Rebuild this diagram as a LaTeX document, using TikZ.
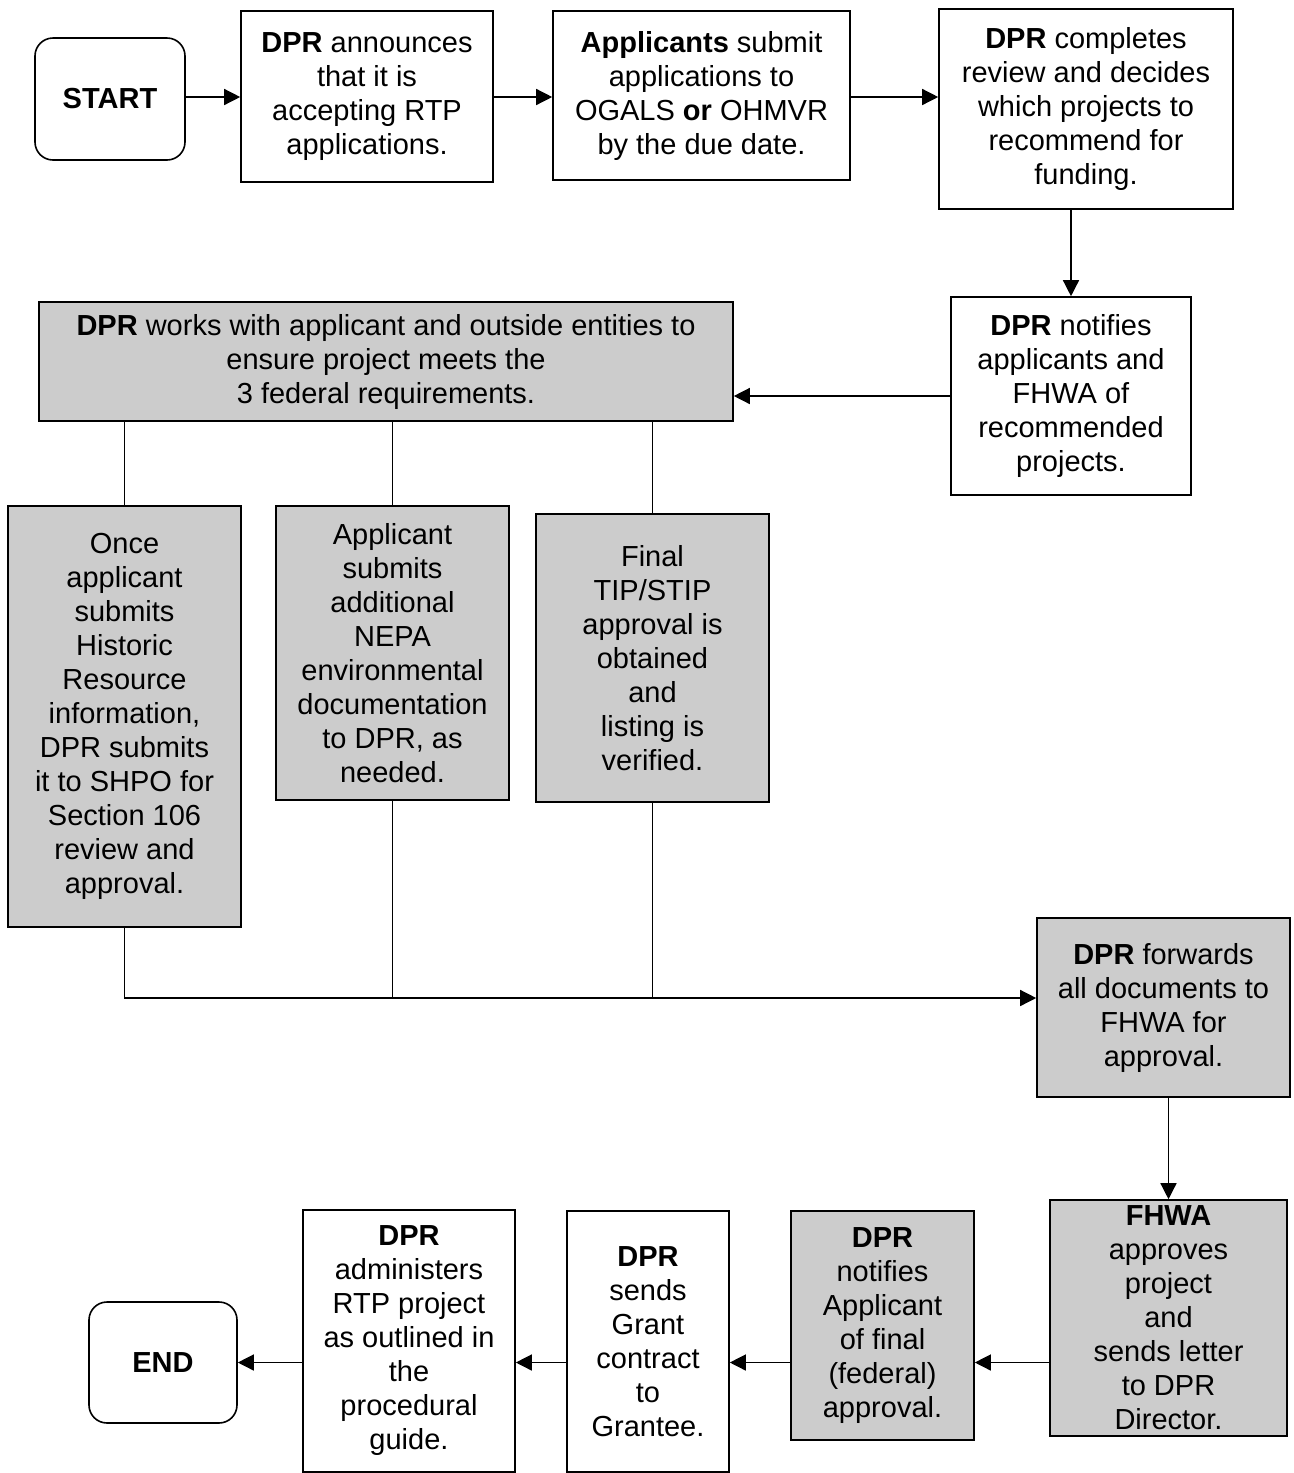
\documentclass[tikz,border=0pt]{standalone}
\usepackage{fontspec}
\setmainfont{Liberation Sans}
\usetikzlibrary{arrows.meta,positioning}
\definecolor{boxgray}{RGB}{204,204,204}
\tikzstyle{box}=[draw,line width=0.8pt,align=center,inner sep=1pt,font=\fontsize{14.5}{17}\selectfont]
\tikzstyle{wbox}=[box,fill=white]
\tikzstyle{gbox}=[box,fill=boxgray]
\tikzstyle{term}=[box,fill=white,rounded corners=9pt]
\tikzstyle{flow}=[draw,line width=0.7pt,-{Triangle[length=8pt,width=8pt]}]
\tikzstyle{link}=[draw,line width=0.7pt]

\begin{document}
\begin{tikzpicture}[x=0.5pt,y=-0.5pt]
\useasboundingbox (0,0) rectangle (1294,1473);

% Top row: start and the first steps
\node[term,minimum width=75pt,minimum height=61pt] (start) at (110,99) {\textbf{START}};
\node[wbox,minimum width=126pt,minimum height=85.5pt] (ann) at (367,96.5)
  {\textbf{DPR} announces\\that it is\\accepting RTP\\applications.};
\node[wbox,minimum width=148.5pt,minimum height=84.5pt] (subm) at (701.5,95.5)
  {\textbf{Applicants} submit\\applications to\\OGALS \textbf{or} OHMVR\\by the due date.};
\node[wbox,minimum width=147pt,minimum height=100pt] (rev) at (1086,109)
  {\textbf{DPR} completes\\review and decides\\which projects to\\recommend for\\funding.};
\node[wbox,minimum width=120pt,minimum height=99pt] (noti) at (1071,396)
  {\textbf{DPR} notifies\\applicants and\\FHWA of\\recommended\\projects.};

% The federal requirements
\node[gbox,minimum width=347pt,minimum height=59.5pt] (works) at (386,361.5)
  {\textbf{DPR} works with applicant and outside entities to\\ensure project meets the\\3 federal requirements.};
\node[gbox,minimum width=116.5pt,minimum height=210.5pt] (hist) at (124.5,716.5)
  {Once\\applicant\\submits\\Historic\\Resource\\information,\\DPR submits\\it to SHPO for\\Section 106\\review and\\approval.};
\node[gbox,minimum width=116.5pt,minimum height=147pt] (nepa) at (392.5,653)
  {Applicant\\submits\\additional\\NEPA\\environmental\\documentation\\to DPR, as\\needed.};
\node[gbox,minimum width=116.5pt,minimum height=144pt] (tip) at (652.5,658)
  {Final\\TIP/STIP\\approval is\\obtained\\and\\listing is\\verified.};
\node[gbox,minimum width=126.5pt,minimum height=89.5pt] (fwd) at (1163.5,1007.5)
  {\textbf{DPR} forwards\\all documents to\\FHWA for\\approval.};

% Bottom row, right to left
\node[gbox,minimum width=118.5pt,minimum height=118pt] (fhwa) at (1168.5,1318)
  {\textbf{FHWA}\\approves\\project\\and\\sends letter\\to DPR\\Director.};
\node[gbox,minimum width=91.5pt,minimum height=114.5pt] (appr) at (882.5,1325.5)
  {\textbf{DPR}\\notifies\\Applicant\\of final\\(federal)\\approval.};
\node[wbox,minimum width=81pt,minimum height=130.5pt] (grant) at (648,1341.5)
  {\textbf{DPR}\\sends\\Grant\\contract\\to\\Grantee.};
\node[wbox,minimum width=106pt,minimum height=131pt] (admin) at (409,1341)
  {\textbf{DPR}\\administers\\RTP project\\as outlined in\\the\\procedural\\guide.};
\node[term,minimum width=74pt,minimum height=60.5pt] (end) at (163,1362.5) {\textbf{END}};

\coordinate (toprow) at (0,97);
\coordinate (bus) at (0,998);

% Connectors
\foreach \source/\dest in {start/ann, ann/subm, subm/rev}
\path[flow] (\source.east |- toprow) -- (\dest.west |- toprow);
\path[flow] (noti.north |- rev.south) -- (noti.north);
\path[flow] (noti.west) -- (noti.west -| works.east);
\foreach \dest in {hist, nepa, tip}
\path[link] (\dest.north) -- (\dest.north |- works.south);
\path[flow] (hist.south) |- (bus -| fwd.west);
\path[link] (nepa.south) -- (nepa.south |- bus);
\path[link] (tip.south) -- (tip.south |- bus);
\path[flow] (fhwa.north |- fwd.south) -- (fhwa.north);
\foreach \source/\dest in {fhwa/appr, appr/grant, grant/admin, admin/end}
\path[flow] (\source.west |- end) -- (\dest.east |- end);

\end{tikzpicture}
\end{document}
